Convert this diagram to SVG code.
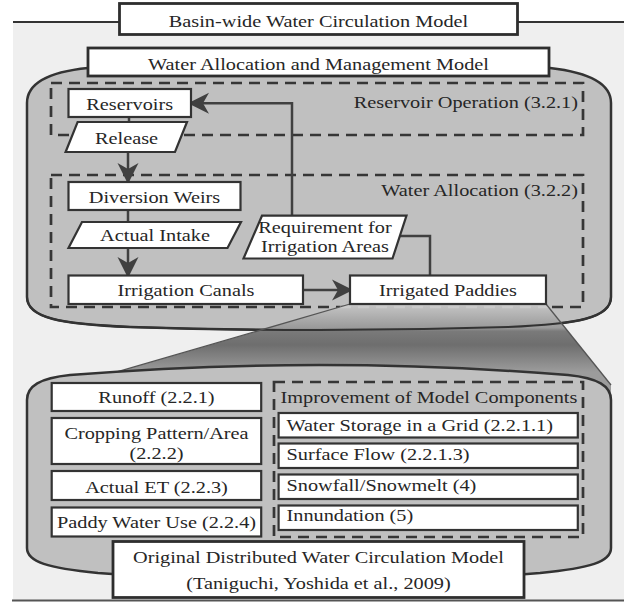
<svg xmlns="http://www.w3.org/2000/svg" width="624" height="603" viewBox="0 0 624 603">
<style>
.t{font-family:"Liberation Serif","Times New Roman",serif;font-size:17.5px;fill:#262626}
.box{fill:#fff;stroke:#333;stroke-width:2.2}
.big{fill:#fff;stroke:#2e2e2e;stroke-width:2.8}
.shape{fill:#c0c0c0;stroke:#333;stroke-width:2.5}
.dash{fill:none;stroke:#363636;stroke-width:2.7;stroke-dasharray:11 7}
.con{fill:none;stroke:#404040;stroke-width:2.5}
</style>
<defs>
<marker id="ah" viewBox="-24 -12 28 24" refX="-3" refY="0" markerWidth="28" markerHeight="24" markerUnits="userSpaceOnUse" orient="auto">
<path d="M0,0 L-21,-10.5 L-15,0 L-21,10.5 Z" fill="#404040"/>
</marker>
<linearGradient id="cone" gradientUnits="userSpaceOnUse" x1="0" y1="304" x2="0" y2="372">
<stop offset="0" stop-color="#c6c6c6"/>
<stop offset="0.35" stop-color="#9a9a9a"/>
<stop offset="0.4" stop-color="#7a7a7a"/>
<stop offset="0.6" stop-color="#6e6e6e"/>
<stop offset="1" stop-color="#9c9c9c"/>
</linearGradient>
</defs>

<!-- background frame -->
<rect x="13" y="22" width="611" height="578" fill="#efefef"/>
<line x1="13" y1="22" x2="624" y2="22" stroke="#333" stroke-width="2.2"/>
<line x1="12" y1="600.5" x2="624" y2="600.5" stroke="#555" stroke-width="2"/>

<!-- upper container -->
<path id="upper" class="shape" d="M27,297 L27,103 C27,84 48,72 88,68 Q319,50 550,68 C585,72 611,82 611,103 L611,297 C611,318 578,324 508,327 Q319,333 130,327 C60,324 27,318 27,297 Z"/>

<g id="reservoir-operation">
<rect class="dash" x="51" y="83" width="532" height="52"/>
<text class="t" text-anchor="end" transform="translate(578,108) scale(1.16,1)">Reservoir Operation (3.2.1)</text>
</g>
<g id="water-allocation">
<rect class="dash" x="51" y="175" width="532" height="132"/>
<text class="t" text-anchor="end" transform="translate(578,196) scale(1.16,1)">Water Allocation (3.2.2)</text>
</g>

<!-- magnifier cone -->
<g id="zoom-cone">
<path d="M350,304 L546,304 L611,385 L611,420 L110,420 L110,373.9 Z" fill="url(#cone)"/>
<line x1="340" y1="307" x2="548" y2="307" stroke="#cacaca" stroke-width="2.7" stroke-dasharray="11 7"/>
<path d="M27,297 C27,318 60,324 130,327 Q319,333 508,327 C578,324 611,318 611,297" fill="none" stroke="#333" stroke-width="2"/>
<line x1="350" y1="304" x2="110" y2="373.9" stroke="#555" stroke-width="1.3"/>
<line x1="546" y1="304" x2="611" y2="385" stroke="#555" stroke-width="1.3"/>
</g>

<!-- lower container -->
<path id="lower" class="shape" d="M27,548 L27,400 C27,386 40,378 70,375 Q319,355 568,375 C598,378 611,386 611,400 L611,548 C611,562 590,568 540,573 Q319,590 98,573 C48,568 27,562 27,548 Z"/>

<g id="improvement">
<rect class="dash" x="274" y="382" width="309" height="155"/>
<text class="t" transform="translate(280.5,403) scale(1.16,1)">Improvement of Model Components</text>
</g>

<!-- title boxes -->
<g id="basin-title">
<rect class="big" x="119.5" y="3.5" width="398" height="31"/>
<text class="t" text-anchor="middle" transform="translate(318.5,26.5) scale(1.16,1)">Basin-wide Water Circulation Model</text>
</g>
<g id="wamm-title">
<rect class="big" x="88" y="48" width="461" height="28"/>
<text class="t" text-anchor="middle" transform="translate(318.5,70) scale(1.16,1)">Water Allocation and Management Model</text>
</g>

<!-- connectors -->
<g id="connectors">
<line class="con" x1="129" y1="117" x2="129" y2="122"/>
<line class="con" x1="128" y1="152" x2="128" y2="181" marker-end="url(#ah)"/>
<line class="con" x1="128" y1="210" x2="128" y2="222"/>
<line class="con" x1="128" y1="248" x2="128" y2="275" marker-end="url(#ah)"/>
<line class="con" x1="303" y1="290" x2="350" y2="290" marker-end="url(#ah)"/>
<polyline class="con" points="430,275.5 430,236 400,236"/>
<polyline class="con" points="292,215.7 292,103.3 191,103.3" marker-end="url(#ah)"/>
</g>

<!-- nodes -->
<g id="reservoirs">
<rect class="box" x="68.5" y="89" width="122.5" height="28"/>
<text class="t" text-anchor="middle" transform="translate(129.7,110) scale(1.16,1)">Reservoirs</text>
</g>
<g id="release">
<polygon class="box" points="77.6,122 187,122 175,152 65.6,152"/>
<text class="t" text-anchor="middle" transform="translate(126.5,144) scale(1.16,1)">Release</text>
</g>
<g id="diversion-weirs">
<rect class="box" x="68.5" y="182" width="172" height="28"/>
<text class="t" text-anchor="middle" transform="translate(154.5,203) scale(1.16,1)">Diversion Weirs</text>
</g>
<g id="actual-intake">
<polygon class="box" points="82,222 241,222 227.5,248 68.5,248"/>
<text class="t" text-anchor="middle" transform="translate(155,240.5) scale(1.16,1)">Actual Intake</text>
</g>
<g id="requirement">
<polygon class="box" points="262,215.7 406.5,215.7 392.5,258.5 243.5,258.5"/>
<text class="t" text-anchor="middle" transform="translate(325,233) scale(1.16,1)">Requirement for</text>
<text class="t" text-anchor="middle" transform="translate(325,251.5) scale(1.16,1)">Irrigation Areas</text>
</g>
<g id="irrigation-canals">
<rect class="box" x="68.5" y="275.5" width="234.5" height="28.5"/>
<text class="t" text-anchor="middle" transform="translate(186,296) scale(1.16,1)">Irrigation Canals</text>
</g>
<g id="irrigated-paddies">
<rect class="box" x="350" y="275.5" width="196" height="28.5"/>
<text class="t" text-anchor="middle" transform="translate(448,296) scale(1.16,1)">Irrigated Paddies</text>
</g>

<g id="runoff">
<rect class="box" x="51.7" y="383" width="209.5" height="28"/>
<text class="t" text-anchor="middle" transform="translate(156.5,403) scale(1.16,1)">Runoff (2.2.1)</text>
</g>
<g id="cropping">
<rect class="box" x="51.7" y="418" width="209.5" height="46"/>
<text class="t" text-anchor="middle" transform="translate(156.5,438.5) scale(1.16,1)">Cropping Pattern/Area</text>
<text class="t" text-anchor="middle" transform="translate(156.5,458.5) scale(1.16,1)">(2.2.2)</text>
</g>
<g id="actual-et">
<rect class="box" x="51.7" y="471" width="209.5" height="29"/>
<text class="t" text-anchor="middle" transform="translate(156.5,493) scale(1.16,1)">Actual ET (2.2.3)</text>
</g>
<g id="paddy-water-use">
<rect class="box" x="51.7" y="507.5" width="209.5" height="29"/>
<text class="t" text-anchor="middle" transform="translate(156.5,527.5) scale(1.16,1)">Paddy Water Use (2.2.4)</text>
</g>

<g id="water-storage">
<rect class="box" x="278.6" y="413" width="299.2" height="24.5"/>
<text class="t" transform="translate(286.5,431) scale(1.16,1)">Water Storage in a Grid (2.2.1.1)</text>
</g>
<g id="surface-flow">
<rect class="box" x="278.6" y="443.5" width="299.2" height="24.5"/>
<text class="t" transform="translate(286.5,459.5) scale(1.16,1)">Surface Flow (2.2.1.3)</text>
</g>
<g id="snowfall">
<rect class="box" x="278.6" y="474.5" width="299.2" height="24.5"/>
<text class="t" transform="translate(286.5,490.5) scale(1.16,1)">Snowfall/Snowmelt (4)</text>
</g>
<g id="innundation">
<rect class="box" x="278.6" y="505.5" width="299.2" height="24.5"/>
<text class="t" transform="translate(286.5,521) scale(1.16,1)">Innundation (5)</text>
</g>

<g id="original-model">
<rect class="big" x="113" y="541.5" width="411" height="56"/>
<text class="t" text-anchor="middle" transform="translate(318.5,563) scale(1.16,1)">Original Distributed Water Circulation Model</text>
<text class="t" text-anchor="middle" transform="translate(318.5,588.5) scale(1.16,1)">(Taniguchi, Yoshida et al., 2009)</text>
</g>
</svg>
